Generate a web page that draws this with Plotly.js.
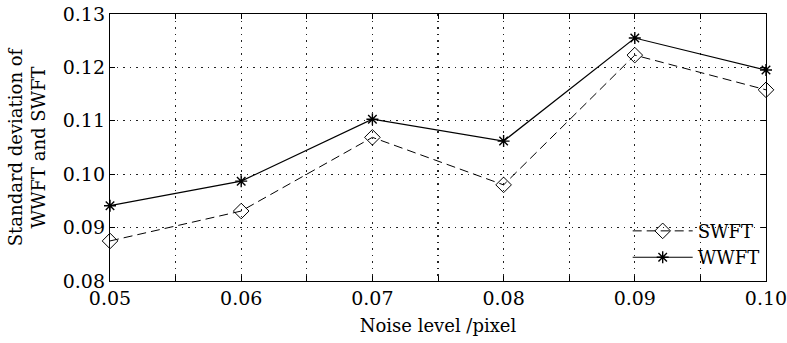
<!DOCTYPE html>
<html>
<head>
<meta charset="utf-8">
<script src="https://cdn.plot.ly/plotly-3.0.1.min.js"></script>
<style>html,body{margin:0;padding:0;background:#fff;}#chart{width:787px;height:343px;}</style>
</head>
<body>
<div id="chart"></div>
<script>
var noiseLevels = [0.05, 0.06, 0.07, 0.08, 0.09, 0.10];
var swftValues = [0.0875, 0.0931, 0.1069, 0.0980, 0.1223, 0.1158];
var wwftValues = [0.0941, 0.0987, 0.1103, 0.1062, 0.1255, 0.1195];
var xTickVals = [0.05, 0.055, 0.06, 0.065, 0.07, 0.075, 0.08, 0.085, 0.09, 0.095, 0.10];
var xTickText = ['0.05', '', '0.06', '', '0.07', '', '0.08', '', '0.09', '', '0.10'];
var yTickVals = [0.08, 0.09, 0.10, 0.11, 0.12, 0.13];
var yTickText = ['0.08', '0.09', '0.10', '0.11', '0.12', '0.13'];

var fontFam = 'DejaVu Serif, Liberation Serif, serif';

var traces = [
  {
    x: noiseLevels, y: swftValues, name: 'SWFT', type: 'scatter', mode: 'lines+markers',
    line: {color: '#000', width: 1, dash: '9px,5px'},
    marker: {symbol: 'diamond-open', size: 12, color: '#000', line: {color: '#000', width: 1}},
    cliponaxis: false
  },
  {
    x: noiseLevels, y: wwftValues, name: 'WWFT', type: 'scatter', mode: 'lines+markers',
    line: {color: '#000', width: 1.2},
    marker: {symbol: 'asterisk-open', size: 10, color: '#000', line: {color: '#000', width: 1.4}},
    cliponaxis: false
  }
];

var layout = {
  width: 787, height: 343,
  margin: {l: 110, r: 21, t: 14, b: 62},
  paper_bgcolor: '#fff', plot_bgcolor: '#fff',
  font: {family: fontFam, size: 18, color: '#000'},
  showlegend: true,
  legend: {
    x: 0.998, y: 0.02, xanchor: 'right', yanchor: 'bottom',
    bgcolor: 'rgba(255,255,255,0)', borderwidth: 0,
    font: {family: fontFam, size: 18, color: '#000'},
    itemwidth: 60, tracegroupgap: 0
  },
  xaxis: {
    range: [0.05, 0.10], tickmode: 'array', tickvals: xTickVals, ticktext: xTickText,
    ticklabeloverflow: 'allow',
    showgrid: true, gridcolor: '#222', griddash: '1.5px,5px', gridwidth: 1.2,
    showline: true, linecolor: '#000', linewidth: 1.2, mirror: 'ticks',
    ticks: 'inside', ticklen: 5, tickcolor: '#000',
    zeroline: false,
    tickfont: {family: fontFam, size: 19, color: '#000'},
    title: {text: 'Noise level /pixel', font: {family: fontFam, size: 18, color: '#000'}, standoff: 11}
  },
  yaxis: {
    range: [0.08, 0.13], tickmode: 'array', tickvals: yTickVals, ticktext: yTickText,
    showgrid: true, gridcolor: '#222', griddash: '1.5px,5px', gridwidth: 1.2,
    showline: true, linecolor: '#000', linewidth: 1.2, mirror: 'ticks',
    ticks: 'inside', ticklen: 5, tickcolor: '#000',
    zeroline: false,
    tickfont: {family: fontFam, size: 19, color: '#000'},
    title: {text: 'Standard deviation of<br>WWFT and SWFT', font: {family: fontFam, size: 18, color: '#000'}, standoff: 12}
  }
};

Plotly.newPlot('chart', traces, layout, {displayModeBar: false, staticPlot: true});
</script>
</body>
</html>
